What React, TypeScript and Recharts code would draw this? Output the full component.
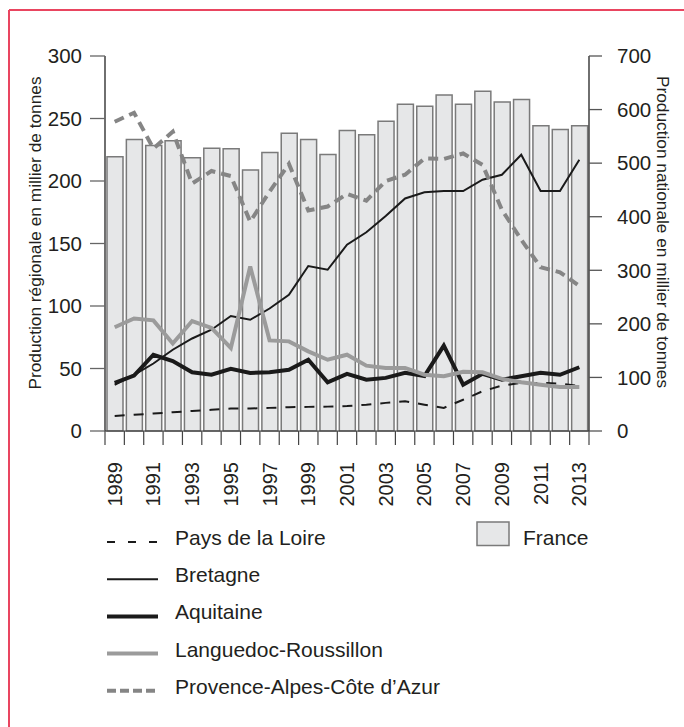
import React from 'react';
import { ComposedChart, Bar, Line, XAxis, YAxis } from 'recharts';

const years = [1989, 1990, 1991, 1992, 1993, 1994, 1995, 1996, 1997, 1998, 1999, 2000, 2001, 2002, 2003, 2004, 2005, 2006, 2007, 2008, 2009, 2010, 2011, 2012, 2013];

// national production (right axis, thousand tonnes)
const france = [512, 544, 533, 542, 510, 528, 527, 487, 520, 556, 544, 516, 561, 553, 578, 610, 606, 627, 610, 634, 614, 619, 570, 563, 570];

// regional production (left axis, thousand tonnes)
const paysDeLaLoire = [12, 13, 14, 15, 16, 17, 18, 18, 18.5, 19, 19.3, 19.5, 20, 21, 22.5, 23.8, 21, 18.5, 25, 31.8, 36.3, 38.5, 38.5, 38, 36];
const bretagne = [37, 45, 54, 65, 74, 81, 92, 89, 98, 109, 132, 129, 149, 159, 172, 186, 191, 192, 192, 201, 205, 221, 192, 192, 217];
const aquitaine = [38.5, 44.3, 61, 56, 47, 45, 49.7, 46.5, 47, 49, 57, 39, 45.7, 41, 42.5, 46.5, 44, 68.3, 37, 45.7, 41, 43.8, 46.5, 45, 51];
const languedoc = [83, 90, 88.5, 70, 88, 82.5, 66.5, 131.6, 72.5, 71.7, 63.7, 57, 61, 52.3, 50.5, 50.5, 45, 43.8, 47.3, 47, 41.7, 39, 37, 35.3, 35.3];
const provence = [247.4, 254.6, 226, 239.5, 198, 208, 204, 167.5, 191.5, 213.7, 176.4, 179.6, 189.7, 184.3, 200, 205, 218, 217.6, 222, 213, 177, 153, 131, 127, 116];

const regionalTicks = [0, 50, 100, 150, 200, 250, 300];
const nationalTicks = [0, 100, 200, 300, 400, 500, 600, 700];

const leftTitle = 'Production régionale en millier de tonnes';
const rightTitle = 'Production nationale en millier de tonnes';

const data = years.map((year, i) => ({
  year,
  france: france[i],
  pays: paysDeLaLoire[i],
  bretagne: bretagne[i],
  aquitaine: aquitaine[i],
  languedoc: languedoc[i],
  provence: provence[i],
}));

const FONT = '"Liberation Sans", Arial, Helvetica, sans-serif';
const TEXT = '#231f20';

const series = [
  { key: 'pays', name: 'Pays de la Loire', color: '#1a1a1a', width: 2, dash: '10 9', legendDash: '8 13' },
  { key: 'bretagne', name: 'Bretagne', color: '#1a1a1a', width: 2, dash: undefined, legendDash: undefined },
  { key: 'aquitaine', name: 'Aquitaine', color: '#1a1a1a', width: 4, dash: undefined, legendDash: undefined },
  { key: 'languedoc', name: 'Languedoc-Roussillon', color: '#9b9b9b', width: 4, dash: undefined, legendDash: undefined },
  { key: 'provence', name: 'Provence-Alpes-Côte d\u2019Azur', color: '#858585', width: 4, dash: '10 6', legendDash: '9 4' },
];

// Each category tick draws the band's left boundary mark (and the right one for the last band),
// plus the rotated year label for every other year.
const YearTick = (props: any) => {
  const { x, y, payload, index, visibleTicksCount } = props;
  const half = payload && typeof payload.offset === 'number' && payload.offset > 0 ? payload.offset : 9.68;
  const isLast = index === visibleTicksCount - 1;
  const labelY = y + 31;
  return (
    <g>
      <line x1={x - half} y1={y} x2={x - half} y2={y + 14} stroke="#444" strokeWidth={1.2} />
      {isLast && <line x1={x + half} y1={y} x2={x + half} y2={y + 14} stroke="#444" strokeWidth={1.2} />}
      {index % 2 === 0 && (
        <text
          x={x}
          y={labelY}
          transform={`rotate(-90 ${x} ${labelY})`}
          textAnchor="end"
          dominantBaseline="central"
          fontSize={20}
          fontFamily={FONT}
          fill={TEXT}
        >
          {payload.value}
        </text>
      )}
    </g>
  );
};

export default function App() {
  return (
    <div style={{ position: 'absolute', left: 0, top: 0, width: 684, height: 727, background: '#fff', overflow: 'hidden' }}>
      <ComposedChart
        width={684}
        height={727}
        data={data}
        margin={{ top: 56, right: 0, bottom: 212, left: 0 }}
        style={{ position: 'absolute', left: 0, top: 0 }}
      >
        <XAxis
          xAxisId="c"
          dataKey="year"
          type="category"
          interval={0}
          height={84}
          tickSize={0}
          tickMargin={0}
          axisLine={{ stroke: '#333', strokeWidth: 1.2 }}
          tickLine={false}
          tick={<YearTick />}
        />
        <YAxis
          yAxisId="reg"
          orientation="left"
          width={105}
          domain={[0, 300]}
          ticks={regionalTicks}
          tickSize={15}
          tickMargin={8}
          axisLine={{ stroke: '#222', strokeWidth: 1.3 }}
          tickLine={{ stroke: '#666', strokeWidth: 1.3 }}
          tick={{ fontSize: 20.5, fontFamily: FONT, fill: TEXT }}
        />
        <YAxis
          yAxisId="nat"
          orientation="right"
          width={95}
          domain={[0, 700]}
          ticks={nationalTicks}
          tickSize={13}
          tickMargin={15}
          axisLine={{ stroke: '#222', strokeWidth: 1.3 }}
          tickLine={{ stroke: '#555', strokeWidth: 1.3 }}
          tick={{ fontSize: 20.5, fontFamily: FONT, fill: TEXT }}
        />
        <Bar
          xAxisId="c"
          yAxisId="nat"
          dataKey="france"
          barSize={16}
          fill="#e6e7e8"
          stroke="#7a7a7a"
          strokeWidth={1.5}
          isAnimationActive={false}
        />
        {series.map((s) => (
          <Line
            key={s.key}
            xAxisId="c"
            yAxisId="reg"
            type="linear"
            dataKey={s.key}
            stroke={s.color}
            strokeWidth={s.width}
            strokeDasharray={s.dash}
            dot={false}
            activeDot={false}
            isAnimationActive={false}
          />
        ))}
      </ComposedChart>
      <svg
        width={684}
        height={727}
        style={{ position: 'absolute', left: 0, top: 0, pointerEvents: 'none' }}
        fontFamily={FONT}
      >
        <line x1={9} y1={10} x2={684} y2={10} stroke="#e94560" strokeWidth={2} />
        <line x1={9} y1={10} x2={9} y2={727} stroke="#e94560" strokeWidth={2} />
        <text x={41} y={233} transform="rotate(-90 41 233)" textAnchor="middle" fontSize={17.3} fill={TEXT}>
          {leftTitle}
        </text>
        <text x={657} y={232} transform="rotate(90 657 232)" textAnchor="middle" fontSize={17.3} fill={TEXT}>
          {rightTitle}
        </text>
        {series.map((s, i) => {
          const ly = 542 + i * 37.2;
          return (
            <g key={s.key}>
              <line
                x1={107}
                y1={ly}
                x2={158}
                y2={ly}
                stroke={s.color}
                strokeWidth={s.width}
                strokeDasharray={s.legendDash}
              />
              <text x={175} y={ly + 3} fontSize={21} fill={TEXT}>
                {s.name}
              </text>
            </g>
          );
        })}
        <rect x={477} y={522} width={32} height={23.5} fill="#e6e7e8" stroke="#7a7a7a" strokeWidth={1.5} />
        <text x={523} y={545} fontSize={21} fill={TEXT}>
          France
        </text>
      </svg>
    </div>
  );
}
